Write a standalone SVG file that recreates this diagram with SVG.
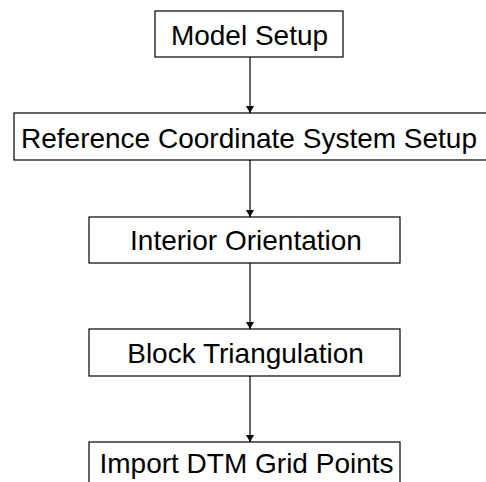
<svg xmlns="http://www.w3.org/2000/svg" width="486" height="482" viewBox="0 0 486 482">
  <style>
    .box { fill: #ffffff; stroke: #000000; stroke-width: 1.2; }
    .label { font-family: "Liberation Sans", Arial, sans-serif; font-size: 28px; fill: #000000; text-anchor: middle; }
    .link { stroke: #000000; stroke-width: 1.2; fill: none; marker-end: url(#arrow); }
  </style>
  <defs>
    <marker id="arrow" markerWidth="7" markerHeight="8" refX="7" refY="4" orient="auto" markerUnits="userSpaceOnUse">
      <path d="M0,0 L7,4 L0,8 Z" fill="#000000"/>
    </marker>
  </defs>
  <rect width="486" height="482" fill="#ffffff"/>

  <g id="connectors">
    <line class="link" x1="250" y1="57" x2="250" y2="113"/>
    <line class="link" x1="250" y1="160" x2="250" y2="217"/>
    <line class="link" x1="250" y1="263" x2="250" y2="329"/>
    <line class="link" x1="250" y1="376" x2="250" y2="442"/>
  </g>

  <g id="model-setup">
    <rect class="box" x="155" y="11" width="188" height="46"/>
    <text class="label" x="249.5" y="45">Model Setup</text>
  </g>

  <g id="reference-coordinate-system-setup">
    <rect class="box" x="14" y="113" width="476" height="47"/>
    <text class="label" x="249" y="148">Reference Coordinate System Setup</text>
  </g>

  <g id="interior-orientation">
    <rect class="box" x="89" y="217" width="311" height="46"/>
    <text class="label" x="246" y="250">Interior Orientation</text>
  </g>

  <g id="block-triangulation">
    <rect class="box" x="89" y="329" width="311" height="47"/>
    <text class="label" x="245.5" y="363">Block Triangulation</text>
  </g>

  <g id="import-dtm-grid-points">
    <rect class="box" x="89" y="442" width="311" height="46"/>
    <text class="label" x="246.5" y="473">Import DTM Grid Points</text>
  </g>
</svg>
